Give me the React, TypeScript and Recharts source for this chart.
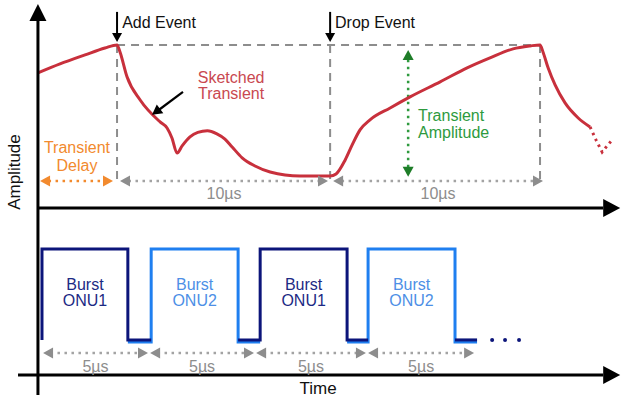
import React from "react";
import { ComposedChart, Line, XAxis, YAxis, ReferenceLine, ReferenceDot } from "recharts";

// time axis in µs, amplitude in arbitrary units (lower time axis = 0, upper time axis = 8)
const TIME_DOMAIN = [-2.03, 27.4];
const AMP_DOMAIN = [0, 17.96];
const UPPER_AXIS = 8;

// sketched transient (red curve)
const transientT = [-0.24, 0.8, 1.98, 2.92, 3.49, 3.63, 3.96, 4.58, 5.52, 5.85, 6.08, 6.32, 6.56, 6.93, 7.3, 7.75, 8.2, 8.58, 8.92, 9.39, 10.0, 10.71, 12.12, 13.54, 13.82, 14.25, 14.58, 14.95, 15.42, 16.37, 17.31, 18.73, 20.0, 21.08, 22.17, 22.97, 23.44, 23.58, 23.82, 24.15, 24.62, 25.24, 25.8];
const transientA = [14.47, 14.9, 15.33, 15.66, 15.81, 15.47, 14.28, 13.17, 12.12, 11.83, 11.35, 10.63, 10.97, 11.4, 11.62, 11.7, 11.55, 11.3, 10.92, 10.4, 10.01, 9.72, 9.53, 9.53, 9.63, 10.3, 11.02, 11.74, 12.22, 12.79, 13.32, 14.04, 14.71, 15.19, 15.62, 15.76, 15.81, 15.47, 14.71, 13.89, 13.03, 12.31, 11.88];
const tailT = [25.8, 26.08, 26.37, 26.6, 26.84];
const tailA = [11.88, 11.26, 10.68, 10.97, 11.26];

// events
const addEvent = 3.49;
const dropEvent = 13.54;
const nextEvent = 23.44;
const peakAmp = 15.81;
const eventBase = 9.25;

// bursts
const burstEdges = [-0.05, 4.0, 5.1, 9.2, 10.24, 14.34, 15.33, 19.43, 20.47];
const burstOwner = ["ONU1", "ONU2", "ONU1", "ONU2"];
const burstHigh = 6.04;
const burstLow = { ONU1: 1.68, ONU2: 1.58 } as Record<string, number>;
const moreDots = [21.18, 21.79, 22.45];

// measurement rows
const delaySpan = [-0.14, 3.3];
const upperSpans = [[3.63, 13.44], [13.68, 23.58]];
const upperRow = 9.29;
const upperLabels = ["10µs", "10µs"];
const lowerBounds = [-0.05, 5.0, 10.0, 15.28, 20.38];
const lowerRow = 1.05;
const lowerLabel = "5µs";

const FONT = "'Liberation Sans', Arial, sans-serif";
const RED = "#c8303c";
const NAVY = "#0c157a";
const BLUE = "#1f7ff0";
const GREY = "#8d8d8d";
const ORANGE = "#f28a2e";
const GREEN = "#2e9a3e";

const arrowHead = (angle: number, color: string, len = 10, half = 5) => (p: any) => {
  const { cx, cy } = p;
  const pts = `${cx},${cy} ${cx - len},${cy - half} ${cx - len},${cy + half}`;
  return <polygon points={pts} fill={color} transform={`rotate(${angle} ${cx} ${cy})`} />;
};

const textAt = (key: string, t: number, a: number, lines: string[], color: string, opts: any = {}) => (
  <ReferenceDot
    key={key}
    x={t}
    y={a}
    ifOverflow="visible"
    shape={(p: any) => (
      <text
        x={p.cx}
        y={p.cy}
        fill={color}
        fontSize={opts.size || 16}
        fontFamily={FONT}
        textAnchor={opts.anchor || "middle"}
        dominantBaseline="central"
        transform={opts.rotate ? `rotate(${opts.rotate} ${p.cx} ${p.cy})` : undefined}
      >
        {lines.map((l, i) => (
          <tspan key={i} x={p.cx} dy={i === 0 ? (-(lines.length - 1) / 2) * (opts.lh || 17) : opts.lh || 17}>
            {l}
          </tspan>
        ))}
      </text>
    )}
  />
);

const head = (key: string, t: number, a: number, angle: number, color: string, len?: number, half?: number) => (
  <ReferenceDot key={key} x={t} y={a} ifOverflow="visible" shape={arrowHead(angle, color, len, half)} />
);

const seg = (key: string, x1: number, y1: number, x2: number, y2: number, style: any) => (
  <ReferenceLine key={key} segment={[{ x: x1, y: y1 }, { x: x2, y: y2 }]} ifOverflow="visible" {...style} />
);

const dotted = (color: string) => ({ stroke: color, strokeWidth: 2.5, strokeDasharray: "2.5 4.5" });
const dashed = { stroke: GREY, strokeWidth: 2, strokeDasharray: "8 6" };
const solid = (w: number) => ({ stroke: "#000", strokeWidth: w });

const transientData = transientT.map((t, i) => ({ t, a: transientA[i] }));
const tailData = tailT.map((t, i) => ({ t, a: tailA[i] }));

const burstPaths = burstOwner.map((owner, i) => {
  const rise = burstEdges[2 * i];
  const fall = burstEdges[2 * i + 1];
  const prev = i > 0 ? burstEdges[2 * i - 1] : rise;
  const next = burstEdges[2 * i + 2];
  const low = burstLow[owner];
  return {
    owner,
    mid: (rise + fall) / 2,
    data: [
      { t: prev, a: low },
      { t: rise, a: low },
      { t: rise, a: burstHigh },
      { t: fall, a: burstHigh },
      { t: fall, a: low },
      { t: next, a: low },
    ],
  };
});
const navyTail = [
  { t: burstEdges[7], a: burstLow.ONU1 },
  { t: burstEdges[8], a: burstLow.ONU1 },
];

export default function App() {
  const ordered = [...burstPaths.filter((b) => b.owner === "ONU2"), ...burstPaths.filter((b) => b.owner === "ONU1")];
  return (
    <div style={{ position: "absolute", left: 0, top: 0, background: "#fff" }}>
      <ComposedChart width={624} height={399} margin={{ top: 0, right: 0, bottom: 24, left: 0 }}>
        <XAxis type="number" dataKey="t" domain={TIME_DOMAIN} hide />
        <YAxis type="number" dataKey="a" domain={AMP_DOMAIN} hide />

        {/* guide lines */}
        {seg("top", addEvent, peakAmp, nextEvent, peakAmp, dashed)}
        {[addEvent, dropEvent, nextEvent].map((t, i) => seg(`v${i}`, t, peakAmp, t, eventBase, dashed))}

        {/* transient delay */}
        {seg("delay", delaySpan[0] + 0.4, upperRow, delaySpan[1] - 0.4, upperRow, dotted(ORANGE))}
        {head("dl", delaySpan[0], upperRow, 180, ORANGE, 10, 5.5)}
        {head("dr", delaySpan[1], upperRow, 0, ORANGE, 10, 5.5)}
        {textAt("delayTxt", 1.6, 10.5, ["Transient", "Delay"], ORANGE, { lh: 18 })}

        {/* 10µs spans */}
        {upperSpans.map(([a, b], i) => [
          seg(`us${i}`, a + 0.4, upperRow, b - 0.4, upperRow, dotted("#a3a3a3")),
          head(`ul${i}`, a, upperRow, 180, GREY, 10, 5.5),
          head(`ur${i}`, b, upperRow, 0, GREY, 10, 5.5),
          textAt(`ut${i}`, (a + b) / 2, 8.72, [upperLabels[i]], GREY),
        ])}

        {/* transient amplitude */}
        {seg("amp", 17.22, 15.1, 17.22, 9.95, dotted(GREEN))}
        {head("au", 17.22, 15.57, -90, "#1e7d28", 10, 5.5)}
        {head("ad", 17.22, 9.49, 90, "#1e7d28", 10, 5.5)}
        {textAt("ampTxt", 17.69, 12.05, ["Transient", "Amplitude"], GREEN, { anchor: "start" })}

        {/* curve */}
        <Line data={transientData} dataKey="a" type="monotone" stroke={RED} strokeWidth={3} dot={false} activeDot={false} isAnimationActive={false} />
        <Line data={tailData} dataKey="a" type="linear" stroke={RED} strokeWidth={3} strokeDasharray="2.5 4" dot={false} activeDot={false} isAnimationActive={false} />

        {/* events */}
        {seg("addArr", addEvent, 17.39, addEvent, 16.3, solid(2))}
        {head("addHead", addEvent, 15.95, 90, "#000", 9, 5)}
        {textAt("addTxt", addEvent + 0.24, 16.91, ["Add Event"], "#111", { anchor: "start" })}
        {seg("dropArr", dropEvent, 17.39, dropEvent, 16.3, solid(2))}
        {head("dropHead", dropEvent, 15.95, 90, "#000", 9, 5)}
        {textAt("dropTxt", dropEvent + 0.23, 16.91, ["Drop Event"], "#111", { anchor: "start" })}

        {/* sketched transient note */}
        {seg("skArr", 6.6, 13.56, 5.44, 12.68, solid(2.2))}
        {head("skHead", 5.14, 12.46, 143.4, "#000", 10, 5.5)}
        {textAt("skTxt", 8.87, 13.9, ["Sketched", "Transient"], "#c94850", { lh: 16 })}

        {/* bursts */}
        {ordered.map((b, i) => (
          <Line key={`b${i}`} data={b.data} dataKey="a" type="linear" stroke={b.owner === "ONU1" ? NAVY : BLUE} strokeWidth={3} dot={false} activeDot={false} isAnimationActive={false} />
        ))}
        <Line data={navyTail} dataKey="a" type="linear" stroke={NAVY} strokeWidth={3} dot={false} activeDot={false} isAnimationActive={false} />
        {moreDots.map((t, i) => (
          <ReferenceDot key={`md${i}`} x={t} y={burstLow.ONU1} r={2} fill={NAVY} stroke="none" ifOverflow="visible" />
        ))}
        {burstPaths.map((b, i) =>
          textAt(`bt${i}`, b.mid, 3.98, ["Burst", b.owner], b.owner === "ONU1" ? "#1c2a84" : "#4d8fe6", { lh: 16 })
        )}

        {/* 5µs spans */}
        {lowerBounds.slice(0, -1).map((a, i) => {
          const b = lowerBounds[i + 1];
          return [
            seg(`ls${i}`, a + 0.4, lowerRow, b - 0.45, lowerRow, dotted("#a3a3a3")),
            head(`ll${i}`, a + 0.05, lowerRow, 180, GREY, 10, 5.5),
            head(`lr${i}`, b - 0.05, lowerRow, 0, GREY, 10, 5.5),
            textAt(`lt${i}`, (a + b) / 2, 0.45, [lowerLabel], GREY),
          ];
        })}

        {/* axes */}
        {seg("yAxis", -0.24, -0.96, -0.24, 16.96, solid(3))}
        {head("yHead", -0.24, 17.77, -90, "#000", 17, 8.5)}
        {seg("upAxis", -0.24, UPPER_AXIS, 26.42, UPPER_AXIS, solid(3))}
        {head("upHead", 27.22, UPPER_AXIS, 0, "#000", 17, 9)}
        {seg("lowAxis", -1.18, 0, 26.42, 0, solid(3))}
        {head("lowHead", 27.22, 0, 0, "#000", 17, 9)}
        {textAt("time", 12.97, -0.62, ["Time"], "#111", { size: 17 })}
        {textAt("ampl", -1.35, 9.72, ["Amplitude"], "#111", { size: 17, rotate: -90 })}
      </ComposedChart>
    </div>
  );
}
